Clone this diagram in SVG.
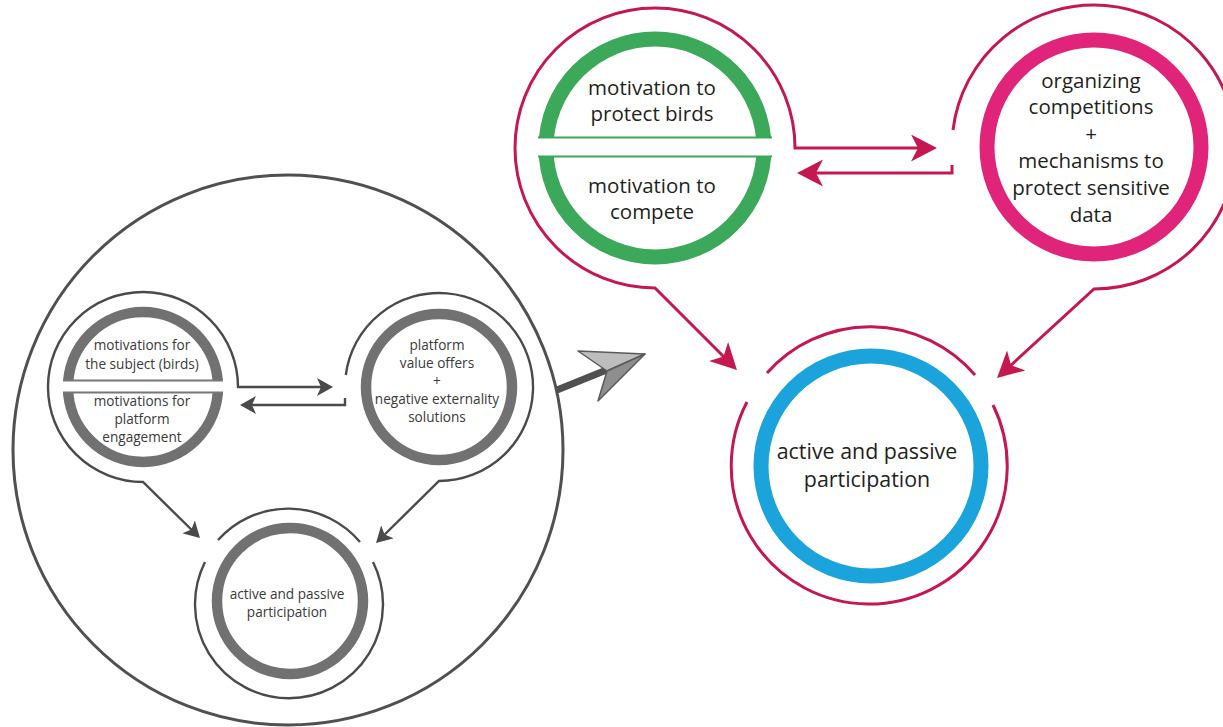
<svg xmlns="http://www.w3.org/2000/svg" width="1223" height="727" viewBox="0 0 1223 727">
<style>
  .bg{fill:#ffffff}
  .txt{font-family:"Open Sans","Noto Sans","Liberation Sans",sans-serif;text-anchor:middle;fill:#231f20}
  .big{font-size:20.5px}
  .small{font-size:13.6px;fill:#3a3a3a}
  .gring{fill:none;stroke:#717171;stroke-width:10.5}
  .gline{fill:none;stroke:#4a4a4a;stroke-width:2.4}
  .rline{fill:none;stroke:#c4184f;stroke-width:3}
  .green{fill:none;stroke:#3ba85a;stroke-width:15}
  .pink{fill:none;stroke:#e0247a;stroke-width:15}
  .blue{fill:none;stroke:#1ba3dc;stroke-width:15}
</style>
<defs>
  <marker id="ah-red" markerUnits="userSpaceOnUse" viewBox="0 0 28 28" markerWidth="28" markerHeight="28" refX="18" refY="13.5" orient="auto-start-reverse">
    <path d="M0,0 L26,13.5 L0,27 L7,13.5 z" fill="#c4184f"/>
  </marker>
  <marker id="ah-gray" markerUnits="userSpaceOnUse" viewBox="0 0 18 18" markerWidth="18" markerHeight="18" refX="11" refY="9" orient="auto-start-reverse">
    <path d="M0,0 L16,9 L0,18 L4,9 z" fill="#4a4a4a"/>
  </marker>
</defs>
<rect class="bg" x="0" y="0" width="1223" height="727"/>

<!-- overview container -->
<g id="overview-circle">
  <circle cx="288" cy="450" r="275" fill="none" stroke="#505050" stroke-width="3"/>
</g>

<g id="connectors">
  <!-- left (gray) -->
  <path class="gline" d="M328 387 L238 387 A95 95 0 1 0 143 482 L196.4 534.5" marker-start="url(#ah-gray)" marker-end="url(#ah-gray)"/>
  <path class="gline" d="M345 398 L345 405 L245 405" marker-end="url(#ah-gray)"/>
  <path class="gline" d="M345.8 375 A94 94 0 1 1 439 481 L379.6 539.5" marker-end="url(#ah-gray)"/>
  <!-- big arrow -->
  <line x1="557" y1="390" x2="609" y2="369" stroke="#505050" stroke-width="7"/>
  <polygon points="645,354 578,351 607,371" fill="#bdbdbd" stroke="#5a5a5a" stroke-width="1.5" stroke-linejoin="round"/>
  <polygon points="645,354 607,371 598,401" fill="#8e8e8e" stroke="#5a5a5a" stroke-width="1.5" stroke-linejoin="round"/>
  <!-- right (crimson) -->
  <path class="rline" d="M929 148 L795 148 A140 140 0 1 0 655 288 L731.3 364.3" marker-start="url(#ah-red)" marker-end="url(#ah-red)"/>
  <path class="rline" d="M952 165 L952 173 L805 173" marker-end="url(#ah-red)"/>
  <path class="rline" d="M953 130 A142 142 0 1 1 1094 289 L1002.9 372.6" marker-end="url(#ah-red)"/>
</g>

<!-- left nodes -->
<g id="node-motivations-gray">
  <circle class="gring" cx="143" cy="387" r="75"/>
  <rect x="58" y="381" width="170" height="11" fill="#ffffff"/>
  <line x1="63" y1="380.5" x2="223" y2="380.5" stroke="#777" stroke-width="2"/>
  <line x1="63" y1="392.5" x2="223" y2="392.5" stroke="#777" stroke-width="2"/>
  <text class="txt small" x="142" y="350">motivations for</text>
  <text class="txt small" x="142" y="369">the subject (birds)</text>
  <text class="txt small" x="142" y="406">motivations for</text>
  <text class="txt small" x="142" y="424">platform</text>
  <text class="txt small" x="142" y="442">engagement</text>
</g>

<g id="node-platform-gray">
  <circle class="gring" cx="439" cy="387" r="73"/>
  <text class="txt small" x="437" y="350">platform</text>
  <text class="txt small" x="437" y="368">value offers</text>
  <text class="txt small" x="437" y="386">+</text>
  <text class="txt small" x="437" y="404">negative externality</text>
  <text class="txt small" x="437" y="422">solutions</text>
</g>

<g id="node-participation-gray">
  <path class="gline" d="M218 540 A94 94 0 0 1 360 542"/>
  <path class="gline" d="M373 562 A94 94 0 1 1 205 562"/>
  <circle class="gring" cx="290" cy="601" r="73"/>
  <text class="txt small" x="287" y="599">active and passive</text>
  <text class="txt small" x="287" y="617">participation</text>
</g>

<!-- right nodes -->
<g id="node-motivation-green">
  <circle class="green" cx="655" cy="148" r="109"/>
  <rect x="530" y="138" width="250" height="18" fill="#ffffff"/>
  <line x1="538" y1="137.5" x2="772" y2="137.5" stroke="#3ba85a" stroke-width="2"/>
  <line x1="538" y1="156.5" x2="772" y2="156.5" stroke="#3ba85a" stroke-width="2"/>
  <text class="txt big" x="652" y="95">motivation to</text>
  <text class="txt big" x="652" y="121">protect birds</text>
  <text class="txt big" x="652" y="193">motivation to</text>
  <text class="txt big" x="652" y="219">compete</text>
</g>

<g id="node-competitions-pink">
  <circle class="pink" cx="1094" cy="147" r="107"/>
  <text class="txt big" x="1091" y="88">organizing</text>
  <text class="txt big" x="1091" y="114">competitions</text>
  <text class="txt big" x="1091" y="141">+</text>
  <text class="txt big" x="1091" y="168">mechanisms to</text>
  <text class="txt big" x="1091" y="195">protect sensitive</text>
  <text class="txt big" x="1091" y="222">data</text>
</g>

<g id="node-participation-blue">
  <path class="rline" d="M767 373 A138 138 0 0 1 975 375"/>
  <path class="rline" d="M993 405 A138 138 0 1 1 747 402"/>
  <circle class="blue" cx="871" cy="466" r="110"/>
  <text class="txt big" x="867" y="459" style="font-size:21.4px">active and passive</text>
  <text class="txt big" x="867" y="487" style="font-size:21.4px">participation</text>
</g>
</svg>
